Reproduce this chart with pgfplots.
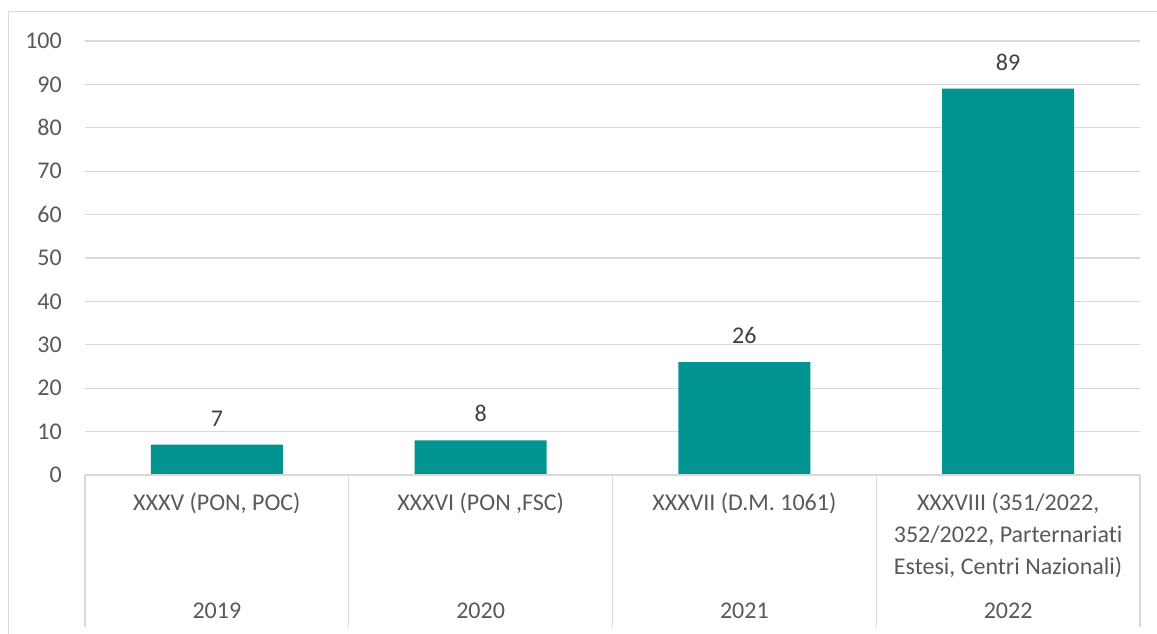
\documentclass[border=0pt]{standalone}
\usepackage{pgfplots}
\pgfplotsset{compat=1.18}
\usepackage{fontspec}
\setmainfont[Ligatures=NoCommon]{Carlito}
\definecolor{barc}{RGB}{0,147,144}
\definecolor{gridc}{RGB}{217,217,217}
\definecolor{txt}{RGB}{89,89,89}
\definecolor{vtxt}{RGB}{64,64,64}
\begin{document}
\begin{tikzpicture}[x=1pt,y=1pt]
\useasboundingbox (0,0) rectangle (1157,-634);
\draw[gridc, line width=1.2pt] (8.5,-634) -- (8.5,-11.5) -- (1157,-11.5);
\begin{axis}[
  at={(85pt,-475pt)}, anchor=south west,
  scale only axis, width=1055pt, height=434pt,
  xmin=-0.5, xmax=3.5, ymin=0, ymax=100,
  ytick={0,10,...,100},
  xtick={0,1,2,3},
  xticklabels={XXXV (PON{,} POC), XXXVI (PON {,}FSC), XXXVII (D.M. 1061), {XXXVIII (351/2022,\\352/2022, Parternariati\\Estesi, Centri Nazionali)}},
  axis line style={draw=none},
  major tick length=0pt,
  ymajorgrids, grid style={gridc, line width=1.2pt},
  font=\fontsize{24}{32}\selectfont,
  /pgf/number format/assume math mode=true,
  tick label style={text=txt},
  yticklabel style={inner sep=0pt, xshift=-23pt},
  xticklabel style={align=center, anchor=north, inner sep=0pt, yshift=-18pt},
  ybar, bar width=0.5,
  clip=false,
  nodes near coords,
  every node near coord/.append style={text=vtxt, anchor=south, inner sep=0pt, yshift=18pt},
]
\addplot[fill=barc, draw=none] coordinates {(0,7) (1,8) (2,26) (3,89)};
\draw[gridc, line width=1.2pt] (axis cs:-0.5,0) -- (axis cs:3.5,0);
\draw[gridc, line width=1.2pt] (axis cs:-0.5,0) -- ([yshift=-152pt]axis cs:-0.5,0);
\draw[gridc, line width=1.2pt] (axis cs:0.5,0) -- ([yshift=-152pt]axis cs:0.5,0);
\draw[gridc, line width=1.2pt] (axis cs:1.5,0) -- ([yshift=-152pt]axis cs:1.5,0);
\draw[gridc, line width=1.2pt] (axis cs:2.5,0) -- ([yshift=-152pt]axis cs:2.5,0);
\draw[gridc, line width=1.2pt] (axis cs:3.5,0) -- ([yshift=-152pt]axis cs:3.5,0);
\node[text=txt, anchor=base] at ([yshift=-143pt]axis cs:0,0) {2019};
\node[text=txt, anchor=base] at ([yshift=-143pt]axis cs:1,0) {2020};
\node[text=txt, anchor=base] at ([yshift=-143pt]axis cs:2,0) {2021};
\node[text=txt, anchor=base] at ([yshift=-143pt]axis cs:3,0) {2022};
\end{axis}
\end{tikzpicture}
\end{document}
